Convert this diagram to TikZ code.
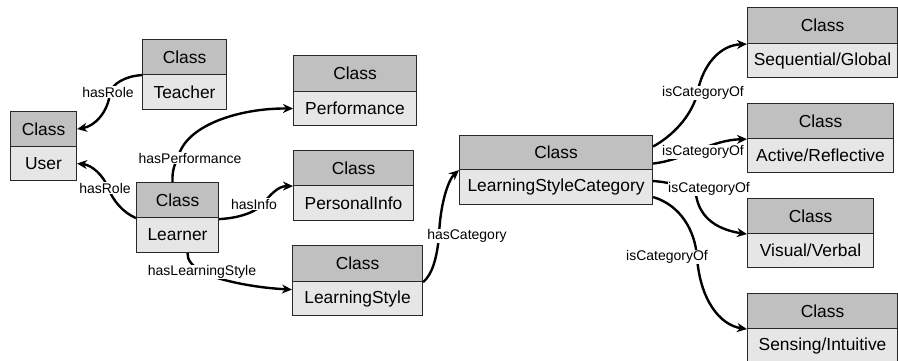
\documentclass[tikz,border=0pt]{standalone}
\usepackage{fontspec}
\setmainfont{Liberation Sans}
\usetikzlibrary{arrows.meta,calc}
\definecolor{ctopfill}{HTML}{C0C0C0}
\definecolor{cbotfill}{HTML}{E6E6E6}
\definecolor{cborder}{HTML}{282828}
\tikzset{
  boxbase/.style={draw=cborder, line width=1.1pt, anchor=north west, inner sep=0pt,
    font=\fontsize{17.4}{20}\selectfont},
  ctop/.style={boxbase, fill=ctopfill},
  cbot/.style={boxbase, fill=cbotfill},
  edge/.style={line width=2.4pt, -{Stealth[length=10pt,width=9pt]}},
  lbl/.style={fill=white, inner sep=0.6pt, font=\fontsize{14}{16}\selectfont}
}
\newcommand{\ClassBox}[7]{%
  \node[ctop, minimum width=#4pt-#2pt, minimum height=#5pt-#3pt] (#1T) at (#2,#3) {Class};
  \node[cbot, minimum width=#4pt-#2pt, minimum height=#6pt-#5pt] (#1B) at (#2,#5) {#7};
}
\begin{document}
\begin{tikzpicture}[x=1pt,y=-1pt]
\useasboundingbox (0,0) rectangle (898,360);
% boxes: name, left, top, right, mid, bottom, text
\ClassBox{user}{10}{111}{76}{146}{180}{User}
\ClassBox{teach}{142}{39}{226}{74}{109}{Teacher}
\ClassBox{learn}{136}{182}{218}{217}{252}{Learner}
\ClassBox{perf}{293}{55}{416}{91}{125}{Performance}
\ClassBox{info}{293}{150}{413}{185}{220}{PersonalInfo}
\ClassBox{ls}{292}{245}{422}{281}{315}{LearningStyle}
\ClassBox{lsc}{459}{135}{652}{169}{204}{LearningStyleCategory}
\ClassBox{seq}{747}{7}{897}{43}{77}{Sequential/Global}
\ClassBox{act}{747}{103}{893}{138}{172}{Active/Reflective}
\ClassBox{vis}{747}{198}{873}{233}{267}{Visual/Verbal}
\ClassBox{sen}{747}{293}{897}{328}{362}{Sensing/Intuitive}
% waypoints
\coordinate (w1) at (110,93);
\coordinate (w2) at (108,188);
\coordinate (w3) at (178,158);
\coordinate (w4) at (262,205);
\coordinate (w5) at (205,274);
\coordinate (w6) at (439,236);
\coordinate (w7) at (697,95);
\coordinate (w9) at (696,195);
\coordinate (w10) at (697,257);
% edges
\draw[edge] (teachT.south west) .. controls (125,76) and (112,84) .. (w1)
  .. controls (108,112) and (95,126) .. (userT.east);
\draw[edge] (learnT.south west) .. controls (122,212) and (113,200) .. (w2)
  .. controls (104,176) and (92,165) .. (userB.east);
\draw[edge] ([xshift=-5pt]learnT.north) .. controls (172,172) and (174,165) .. (w3)
  .. controls (185,125) and (240,108) .. (perfB.west);
\draw[edge] ([yshift=-1pt]learnT.south east) .. controls (240,218) and (255,212) .. (w4)
  .. controls (270,195) and (278,186) .. (infoT.south west);
\draw[edge] ([xshift=10pt]learnB.south) .. controls (187,260) and (192,266) .. (w5)
  .. controls (230,283) and (260,288) .. ([yshift=9pt]lsB.west);
\draw[edge] (lsT.south east) .. controls (432,275) and (437,258) .. (w6)
  .. controls (440,205) and (448,180) .. (lscT.south west);
\draw[edge] ([yshift=6pt]lscT.east) .. controls (672,136) and (690,118) .. (w7)
  .. controls (702,65) and (720,45) .. (seqT.south west);
\draw[edge] ([yshift=-11pt]lscT.east) .. controls (685,160) and (710,140) .. (actT.south west);
\draw[edge] ([yshift=6pt]lscB.east) .. controls (670,182) and (692,188) .. (w9)
  .. controls (700,220) and (720,230) .. (visT.south west);
\draw[edge] ([yshift=-10pt]lscB.east) .. controls (680,205) and (695,230) .. (w10)
  .. controls (700,300) and (720,325) .. (senT.south west);
% labels
\node[lbl] (l1) at (108,92) {hasRole};
\node[lbl] (l2) at (105,188) {hasRole};
\node[lbl] (l3) at (190,158) {hasPerformance};
\node[lbl] (l4) at (254,204) {hasInfo};
\node[lbl] (l5) at (202,272) {hasLearningStyle};
\node[lbl] (l6) at (467,236) {hasCategory};
\node[lbl] (l7) at (703,93) {isCategoryOf};
\node[lbl] (l8) at (703,152) {isCategoryOf};
\node[lbl] (l9) at (709,189) {isCategoryOf};
\node[lbl] (l10) at (667,257) {isCategoryOf};
\end{tikzpicture}
\end{document}
